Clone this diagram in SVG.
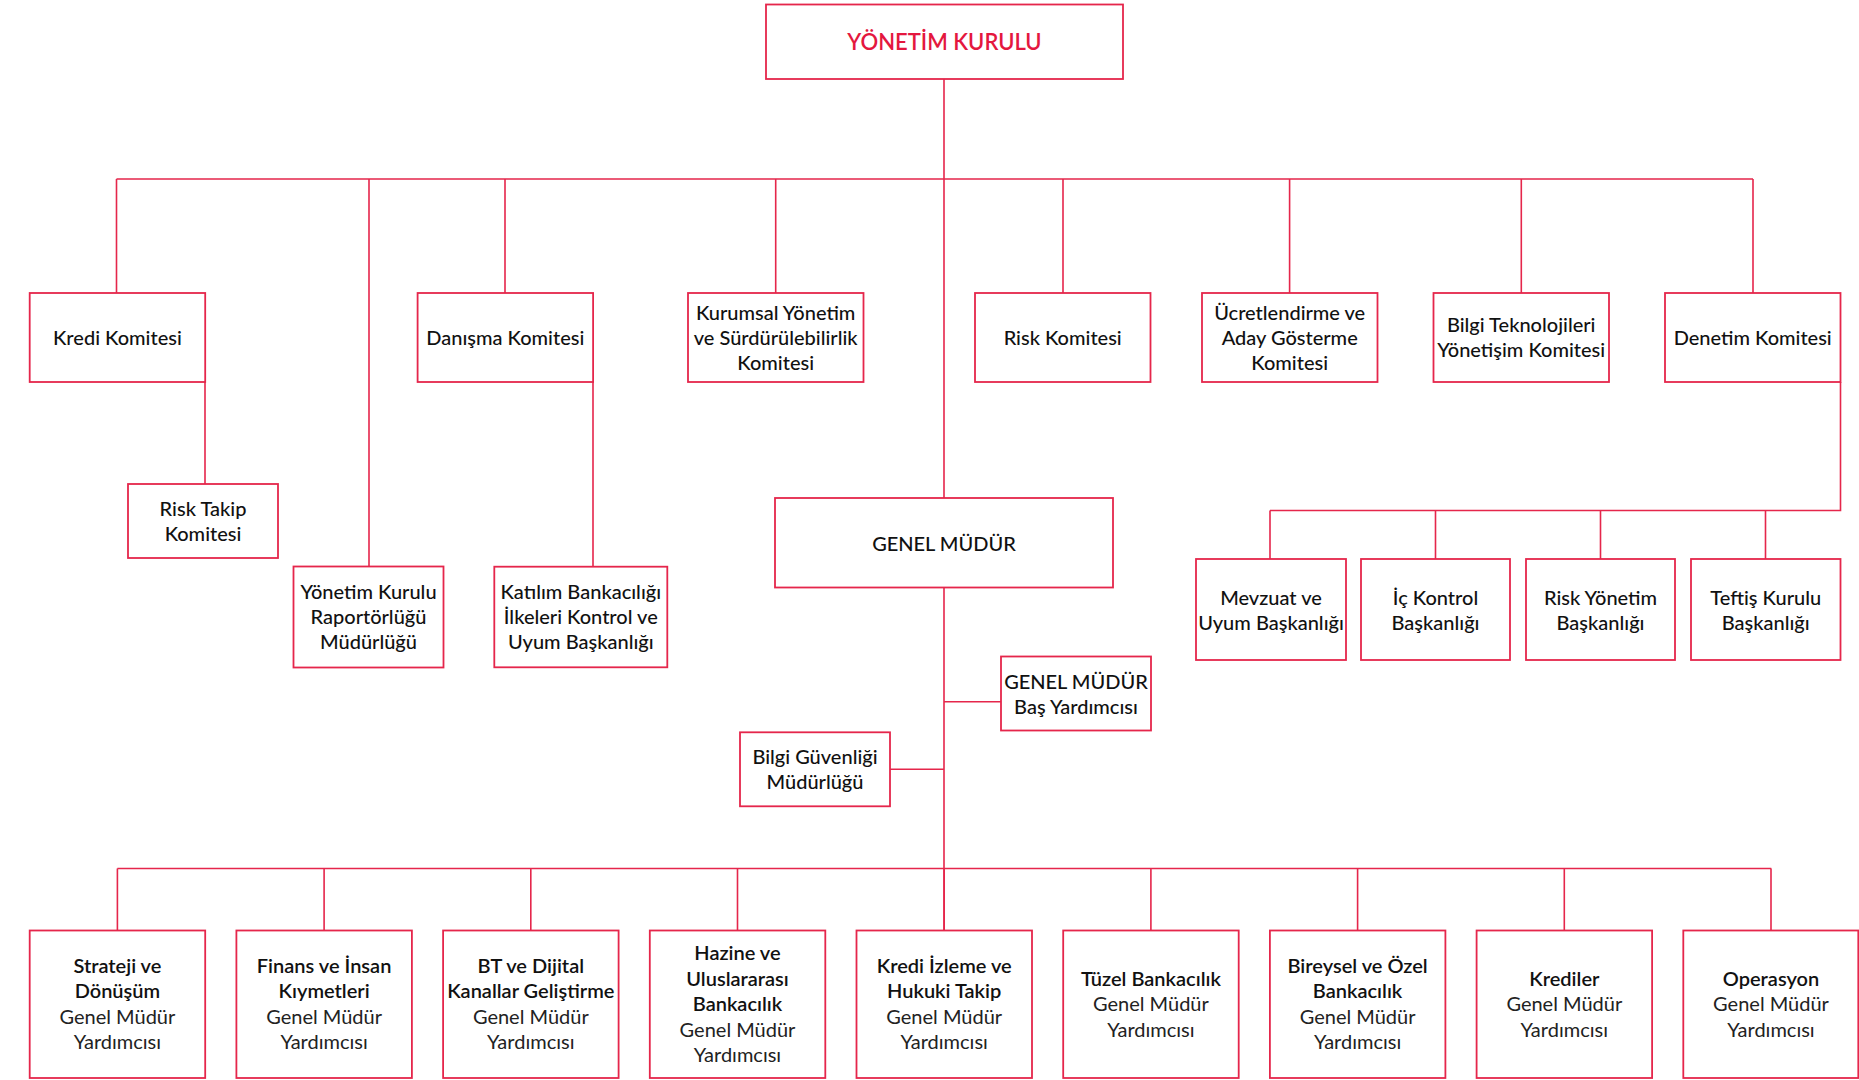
<svg xmlns="http://www.w3.org/2000/svg" width="1859" height="1080" viewBox="0 0 1859 1080">
<style>
.box{fill:#ffffff;stroke:#e5264b;stroke-width:1.8}
.ln{fill:none;stroke:#e5264b;stroke-width:1.6}
text{font-family:Lato,"Open Sans","Liberation Sans",sans-serif;font-size:20px;fill:#111111;text-anchor:middle}
.t{font-weight:500}
.b{font-weight:600}
.l{font-weight:400;fill:#222222}
.title{font-weight:600;font-size:22px;fill:#e4173e}
</style>
<rect width="1859" height="1080" fill="#ffffff"/>
<g id="connectors">
<path class="ln" d="M944 79V498M944 587V931"/>
<path class="ln" d="M116.5 179H1753M116.5 179V293M369 179V566M505 179V293M775.7 179V293M1063 179V293M1289.6 179V293M1521.3 179V293M1753 179V293"/>
<path class="ln" d="M205 382V484M593 382V567"/>
<path class="ln" d="M1840.5 382V510.5H1270M1270 510.5V559M1435.5 510.5V559M1600.5 510.5V559M1765.5 510.5V559"/>
<path class="ln" d="M944 701.7H1001M890 769.3H944"/>
<path class="ln" d="M117.4 868.5H1771.3M117.4 868.5V931M324.1 868.5V931M530.8 868.5V931M737.5 868.5V931M944.2 868.5V931M1150.9 868.5V931M1357.6 868.5V931M1564.3 868.5V931M1771 868.5V931"/>
</g>
<g id="yonetim-kurulu"><rect class="box" x="766" y="4.5" width="357" height="74.5"/><text class="title" x="944.5" y="50">YÖNETİM KURULU</text></g>
<g id="kredi-komitesi"><rect class="box" x="29.7" y="293" width="175.5" height="89"/><text class="t" x="117.4" y="345">Kredi Komitesi</text></g>
<g id="danisma-komitesi"><rect class="box" x="417.6" y="293" width="175.5" height="89"/><text class="t" x="505.3" y="345">Danışma Komitesi</text></g>
<g id="kurumsal-yonetim"><rect class="box" x="688" y="293" width="175.5" height="89"/><text class="t" x="775.7" y="320"><tspan x="775.7">Kurumsal Yönetim</tspan><tspan x="775.7" dy="25">ve Sürdürülebilirlik</tspan><tspan x="775.7" dy="25">Komitesi</tspan></text></g>
<g id="risk-komitesi"><rect class="box" x="975" y="293" width="175.5" height="89"/><text class="t" x="1062.7" y="345">Risk Komitesi</text></g>
<g id="ucretlendirme"><rect class="box" x="1202" y="293" width="175.5" height="89"/><text class="t" x="1289.7" y="320"><tspan x="1289.7">Ücretlendirme ve</tspan><tspan x="1289.7" dy="25">Aday Gösterme</tspan><tspan x="1289.7" dy="25">Komitesi</tspan></text></g>
<g id="bilgi-teknolojileri"><rect class="box" x="1433.5" y="293" width="175.5" height="89"/><text class="t" x="1521.2" y="332"><tspan x="1521.2">Bilgi Teknolojileri</tspan><tspan x="1521.2" dy="25">Yönetişim Komitesi</tspan></text></g>
<g id="denetim-komitesi"><rect class="box" x="1665" y="293" width="175.5" height="89"/><text class="t" x="1752.7" y="345">Denetim Komitesi</text></g>
<g id="risk-takip"><rect class="box" x="128" y="484" width="150" height="74"/><text class="t" x="203" y="516"><tspan x="203">Risk Takip</tspan><tspan x="203" dy="25">Komitesi</tspan></text></g>
<g id="yk-raportorlugu"><rect class="box" x="293.5" y="566.5" width="150" height="101"/><text class="t" x="368.5" y="599"><tspan x="368.5">Yönetim Kurulu</tspan><tspan x="368.5" dy="25">Raportörlüğü</tspan><tspan x="368.5" dy="25">Müdürlüğü</tspan></text></g>
<g id="katilim-bankaciligi"><rect class="box" x="494.3" y="566.7" width="173" height="100.6"/><text class="t" x="580.8" y="599"><tspan x="580.8">Katılım Bankacılığı</tspan><tspan x="580.8" dy="25">İlkeleri Kontrol ve</tspan><tspan x="580.8" dy="25">Uyum Başkanlığı</tspan></text></g>
<g id="genel-mudur"><rect class="box" x="775" y="498" width="338" height="89.5"/><text class="t" x="944" y="551">GENEL MÜDÜR</text></g>
<g id="mevzuat"><rect class="box" x="1196" y="559" width="150" height="101"/><text class="t" x="1271" y="605"><tspan x="1271">Mevzuat ve</tspan><tspan x="1271" dy="25">Uyum Başkanlığı</tspan></text></g>
<g id="ic-kontrol"><rect class="box" x="1361" y="559" width="149" height="101"/><text class="t" x="1435.5" y="605"><tspan x="1435.5">İç Kontrol</tspan><tspan x="1435.5" dy="25">Başkanlığı</tspan></text></g>
<g id="risk-yonetim"><rect class="box" x="1526" y="559" width="149" height="101"/><text class="t" x="1600.5" y="605"><tspan x="1600.5">Risk Yönetim</tspan><tspan x="1600.5" dy="25">Başkanlığı</tspan></text></g>
<g id="teftis-kurulu"><rect class="box" x="1691" y="559" width="149.5" height="101"/><text class="t" x="1765.7" y="605"><tspan x="1765.7">Teftiş Kurulu</tspan><tspan x="1765.7" dy="25">Başkanlığı</tspan></text></g>
<g id="gm-bas-yardimcisi"><rect class="box" x="1001" y="656.5" width="150" height="74"/><text class="t" x="1076" y="689"><tspan x="1076">GENEL MÜDÜR</tspan><tspan x="1076" dy="24.5">Baş Yardımcısı</tspan></text></g>
<g id="bilgi-guvenligi"><rect class="box" x="740" y="732.3" width="150" height="74"/><text class="t" x="815" y="764"><tspan x="815">Bilgi Güvenliği</tspan><tspan x="815" dy="25">Müdürlüğü</tspan></text></g>
<g id="strateji"><rect class="box" x="29.7" y="930.5" width="175.5" height="147.5"/><text x="117.4" y="972.7"><tspan class="b" x="117.4">Strateji ve</tspan><tspan class="b" x="117.4" dy="25.5">Dönüşüm</tspan><tspan class="l" x="117.4" dy="25.5">Genel Müdür</tspan><tspan class="l" x="117.4" dy="25.5">Yardımcısı</tspan></text></g>
<g id="finans"><rect class="box" x="236.4" y="930.5" width="175.5" height="147.5"/><text x="324.1" y="972.7"><tspan class="b" x="324.1">Finans ve İnsan</tspan><tspan class="b" x="324.1" dy="25.5">Kıymetleri</tspan><tspan class="l" x="324.1" dy="25.5">Genel Müdür</tspan><tspan class="l" x="324.1" dy="25.5">Yardımcısı</tspan></text></g>
<g id="bt-dijital"><rect class="box" x="443.1" y="930.5" width="175.5" height="147.5"/><text x="530.8" y="972.7"><tspan class="b" x="530.8">BT ve Dijital</tspan><tspan class="b" x="530.8" dy="25.5">Kanallar Geliştirme</tspan><tspan class="l" x="530.8" dy="25.5">Genel Müdür</tspan><tspan class="l" x="530.8" dy="25.5">Yardımcısı</tspan></text></g>
<g id="hazine"><rect class="box" x="649.8" y="930.5" width="175.5" height="147.5"/><text x="737.5" y="960"><tspan class="b" x="737.5">Hazine ve</tspan><tspan class="b" x="737.5" dy="25.5">Uluslararası</tspan><tspan class="b" x="737.5" dy="25.5">Bankacılık</tspan><tspan class="l" x="737.5" dy="25.5">Genel Müdür</tspan><tspan class="l" x="737.5" dy="25.5">Yardımcısı</tspan></text></g>
<g id="kredi-izleme"><rect class="box" x="856.5" y="930.5" width="175.5" height="147.5"/><text x="944.2" y="972.7"><tspan class="b" x="944.2">Kredi İzleme ve</tspan><tspan class="b" x="944.2" dy="25.5">Hukuki Takip</tspan><tspan class="l" x="944.2" dy="25.5">Genel Müdür</tspan><tspan class="l" x="944.2" dy="25.5">Yardımcısı</tspan></text></g>
<g id="tuzel"><rect class="box" x="1063.2" y="930.5" width="175.5" height="147.5"/><text x="1150.9" y="985.5"><tspan class="b" x="1150.9">Tüzel Bankacılık</tspan><tspan class="l" x="1150.9" dy="25.5">Genel Müdür</tspan><tspan class="l" x="1150.9" dy="25.5">Yardımcısı</tspan></text></g>
<g id="bireysel"><rect class="box" x="1269.9" y="930.5" width="175.5" height="147.5"/><text x="1357.6" y="972.7"><tspan class="b" x="1357.6">Bireysel ve Özel</tspan><tspan class="b" x="1357.6" dy="25.5">Bankacılık</tspan><tspan class="l" x="1357.6" dy="25.5">Genel Müdür</tspan><tspan class="l" x="1357.6" dy="25.5">Yardımcısı</tspan></text></g>
<g id="krediler"><rect class="box" x="1476.6" y="930.5" width="175.5" height="147.5"/><text x="1564.3" y="985.5"><tspan class="b" x="1564.3">Krediler</tspan><tspan class="l" x="1564.3" dy="25.5">Genel Müdür</tspan><tspan class="l" x="1564.3" dy="25.5">Yardımcısı</tspan></text></g>
<g id="operasyon"><rect class="box" x="1683.3" y="930.5" width="175" height="147.5"/><text x="1771" y="985.5"><tspan class="b" x="1771">Operasyon</tspan><tspan class="l" x="1771" dy="25.5">Genel Müdür</tspan><tspan class="l" x="1771" dy="25.5">Yardımcısı</tspan></text></g>
</svg>
